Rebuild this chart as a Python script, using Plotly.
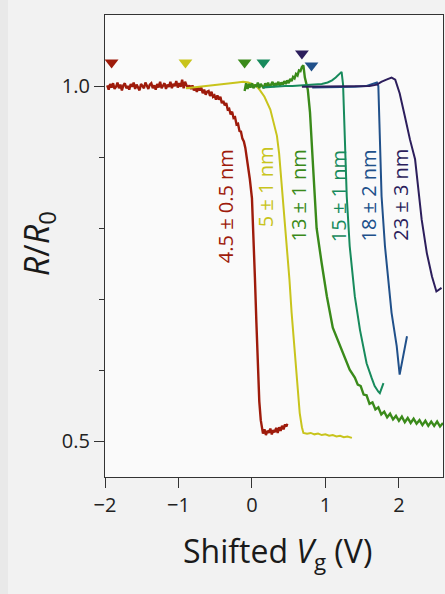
import plotly.graph_objects as go

# ---------------- data ----------------
red_x = [-1.97, -1.95, -1.93, -1.91, -1.89, -1.87, -1.85, -1.83, -1.81, -1.79,
         -1.77, -1.75, -1.73, -1.71, -1.69, -1.67, -1.65, -1.63, -1.61, -1.59,
         -1.57, -1.55, -1.53, -1.51, -1.49, -1.47, -1.45, -1.43, -1.41, -1.39,
         -1.37, -1.35, -1.33, -1.31, -1.29, -1.27, -1.25, -1.23, -1.21, -1.19,
         -1.17, -1.15, -1.13, -1.11, -1.09, -1.07, -1.05, -1.03, -1.01, -0.99,
         -0.97, -0.95, -0.93, -0.91, -0.89, -0.87,
         -0.85, -0.83, -0.81, -0.79, -0.77, -0.75, -0.73, -0.71, -0.69, -0.67,
         -0.65, -0.63, -0.61, -0.59, -0.57, -0.55, -0.53, -0.51, -0.49, -0.47,
         -0.45, -0.43, -0.41, -0.39, -0.37, -0.35, -0.33, -0.31, -0.29, -0.27,
         -0.25, -0.23, -0.21, -0.19, -0.17, -0.15, -0.13, -0.11,
         -0.09, -0.06, -0.03, 0.00, 0.02, 0.04, 0.06, 0.08, 0.10, 0.12, 0.14,
         0.15, 0.17, 0.19, 0.21, 0.23, 0.25, 0.27, 0.29, 0.31, 0.33,
         0.35, 0.37, 0.39, 0.41, 0.43, 0.45, 0.47, 0.48]
red_y = [1.001, 0.995, 1.003, 0.998, 1.004, 0.996, 0.999, 1.005, 0.997, 1.002,
         0.994, 1.001, 1.004, 0.997, 1.000, 0.995, 1.003, 0.999, 1.005, 0.996,
         1.002, 0.998, 0.994, 1.003, 1.000, 0.997, 1.005, 0.999, 0.996, 1.002,
         1.004, 0.997, 1.001, 0.995, 1.003, 0.998, 1.006, 0.997, 1.000, 1.004,
         0.996, 1.002, 0.999, 1.006, 0.997, 1.003, 1.000, 1.007, 0.998, 1.004,
         0.999, 1.009, 0.997, 1.006, 1.001, 0.998,
         1.001, 0.996, 1.001, 0.994, 0.997, 0.992, 0.998, 0.994, 0.998, 0.990,
         0.995, 0.988, 0.992, 0.993, 0.986, 0.992, 0.985, 0.987, 0.981, 0.987,
         0.981, 0.985, 0.976, 0.979, 0.973, 0.976, 0.967, 0.968, 0.960, 0.964,
         0.955, 0.956, 0.946, 0.947, 0.937, 0.936, 0.926, 0.922,
         0.913, 0.894, 0.870, 0.842, 0.795, 0.731, 0.668, 0.606, 0.556, 0.530, 0.518,
         0.511, 0.517, 0.509, 0.515, 0.512, 0.518, 0.510, 0.516, 0.513, 0.519,
         0.512, 0.520, 0.515, 0.522, 0.517, 0.524, 0.521, 0.525]

yel_x = [-0.90, -0.80, -0.70, -0.60, -0.50, -0.40, -0.30, -0.20, -0.12, -0.05,
         0.02, 0.07, 0.11, 0.17, 0.25, 0.30, 0.34, 0.37, 0.40, 0.44,
         0.47, 0.51, 0.54, 0.58, 0.61, 0.65, 0.68, 0.70, 0.75, 0.80,
         0.85, 0.90, 0.95, 1.00, 1.05, 1.10, 1.15, 1.20, 1.25, 1.30, 1.36]
yel_y = [0.997, 0.998, 0.999, 1.000, 1.001, 1.002, 1.003, 1.005, 1.006, 1.005,
         1.002, 0.999, 0.994, 0.985, 0.967, 0.948, 0.930, 0.905, 0.869, 0.822,
         0.775, 0.728, 0.681, 0.628, 0.587, 0.540, 0.520, 0.512, 0.511, 0.512,
         0.510, 0.511, 0.509, 0.510, 0.508, 0.509, 0.507, 0.508, 0.506, 0.507, 0.505]

grn_x = [-0.10, -0.08, -0.06, -0.04, -0.02, 0.00, 0.02, 0.04, 0.06, 0.08,
         0.10, 0.12, 0.14, 0.16, 0.18, 0.20, 0.22, 0.24, 0.26, 0.28,
         0.30, 0.32, 0.34, 0.36, 0.38, 0.40, 0.42, 0.44, 0.46, 0.48,
         0.50, 0.52, 0.54, 0.56, 0.58, 0.60, 0.62, 0.64, 0.66, 0.68,
         0.70, 0.72, 0.76, 0.79, 0.83, 0.88, 0.95, 1.02, 1.10, 1.20,
         1.27, 1.33,
         1.40, 1.44, 1.48, 1.52, 1.56, 1.60, 1.64, 1.68, 1.72, 1.76,
         1.80, 1.84, 1.88, 1.92, 1.96, 2.00, 2.04, 2.08, 2.12, 2.16,
         2.20, 2.24, 2.28, 2.32, 2.36, 2.40, 2.44, 2.48, 2.52, 2.56, 2.60]
grn_y = [0.993, 1.004, 0.996, 1.003, 0.998, 1.004, 0.997, 1.002, 0.999, 1.005,
         0.997, 1.003, 1.000, 0.997, 1.004, 0.999, 1.005, 0.998, 1.002, 1.006,
         0.999, 1.004, 1.001, 1.006, 1.000, 1.005, 1.002, 1.007, 1.003, 1.008,
         1.004, 1.010, 1.007, 1.013, 1.011, 1.017, 1.015, 1.022, 1.021, 1.027,
         1.029, 1.012, 0.995, 0.963, 0.890, 0.800, 0.750, 0.704, 0.660, 0.634,
         0.615, 0.601,
         0.590, 0.580, 0.578, 0.566, 0.565, 0.553, 0.555, 0.545, 0.548, 0.538,
         0.542, 0.534, 0.539, 0.531, 0.536, 0.529, 0.535, 0.527, 0.533, 0.526,
         0.532, 0.525, 0.530, 0.523, 0.529, 0.522, 0.528, 0.522, 0.528, 0.521, 0.526]

teal_x = [0.15, 0.25, 0.35, 0.45, 0.55, 0.65, 0.75, 0.85, 0.95, 1.03,
          1.09, 1.14, 1.18, 1.22, 1.24, 1.265, 1.29, 1.33, 1.40, 1.47,
          1.56, 1.63, 1.67, 1.72, 1.74, 1.79]
teal_y = [0.998, 0.999, 0.999, 1.000, 1.000, 1.001, 1.001, 1.002, 1.003, 1.005,
          1.008, 1.012, 1.016, 1.020, 1.002, 0.915, 0.845, 0.775, 0.704, 0.657,
          0.610, 0.589, 0.578, 0.570, 0.568, 0.582]

blue_x = [0.82, 0.95, 1.10, 1.25, 1.40, 1.55, 1.62, 1.67, 1.70, 1.72,
          1.74, 1.764, 1.81, 1.854, 1.90, 1.97, 2.01, 2.11]
blue_y = [0.998, 0.998, 0.998, 0.999, 0.999, 1.000, 1.002, 1.004, 1.005, 1.000,
          0.915, 0.845, 0.775, 0.728, 0.681, 0.634, 0.594, 0.648]

navy_x = [0.68, 0.85, 1.00, 1.15, 1.30, 1.45, 1.60, 1.70, 1.76, 1.83,
          1.90, 1.95, 2.01, 2.08, 2.15, 2.22, 2.26, 2.31, 2.38, 2.45,
          2.51, 2.58]
navy_y = [0.999, 0.999, 0.999, 0.999, 0.999, 0.999, 1.000, 1.002, 1.006, 1.009,
          1.012, 1.009, 0.990, 0.958, 0.925, 0.897, 0.855, 0.812, 0.765, 0.732,
          0.711, 0.716]

# onset markers (triangles), same order as the series
mark_x = [-1.91, -0.905, -0.10, 0.156, 0.81, 0.68]
mark_y = [1.033, 1.033, 1.033, 1.033, 1.029, 1.046]

labels = ["4.5 ± 0.5 nm", "5 ± 1 nm", "13 ± 1 nm", "15 ± 1 nm", "18 ± 2 nm", "23 ± 3 nm"]
colors = ["#9e1b0b", "#c8c41c", "#3a8a1a", "#178a5c", "#20508a", "#2c1e5c"]
x_ticks = [-2, -1, 0, 1, 2]
y_ticks = [0.5, 1.0]
y_minor = [0.6, 0.7, 0.8, 0.9]

series = [(red_x, red_y, 2.4), (yel_x, yel_y, 2.0), (grn_x, grn_y, 2.4),
          (teal_x, teal_y, 2.0), (blue_x, blue_y, 2.0), (navy_x, navy_y, 2.0)]

# label positions (layout only)
label_pos = [(-0.367, 0.831), (0.177, 0.859), (0.639, 0.846),
             (1.170, 0.845), (1.592, 0.846), (2.027, 0.847)]

FONT = "Open Sans, Noto Sans, sans-serif"

fig = go.Figure()
for (xs, ys, w), c in zip(series, colors):
    fig.add_trace(go.Scatter(x=xs, y=ys, mode="lines",
                             line=dict(color=c, width=w), showlegend=False,
                             hoverinfo="skip"))
fig.add_trace(go.Scatter(x=mark_x, y=mark_y, mode="markers",
                         marker=dict(symbol="triangle-down", size=12, color=colors,
                                     line=dict(width=0)),
                         showlegend=False, hoverinfo="skip"))

for (lx, ly), txt, c in zip(label_pos, labels, colors):
    fig.add_annotation(x=lx, y=ly, xref="x", yref="y", text=txt, textangle=-90,
                       showarrow=False, font=dict(family=FONT, size=20, color=c))

fig.add_annotation(x=0.509, y=-0.164, xref="paper", yref="paper",
                   text="Shifted <i>V</i><sub>g</sub> (V)", showarrow=False,
                   xanchor="center", yanchor="middle",
                   font=dict(family=FONT, size=32, color="#1a1a1a"))
fig.add_annotation(x=-0.198, y=0.504, xref="paper", yref="paper",
                   text="<i>R</i>/<i>R</i><sub>0</sub>", showarrow=False, textangle=-90,
                   xanchor="center", yanchor="middle",
                   font=dict(family=FONT, size=34, color="#1a1a1a"))

# slightly darker strip at the very left edge of the panel
fig.add_shape(type="rect", xref="paper", yref="paper", x0=-0.33, x1=-0.287,
              y0=-0.3, y1=1.1, fillcolor="#e9e9e9", line=dict(width=0), layer="below")

axis_common = dict(showgrid=False, zeroline=False, showline=True, linecolor="#333333",
                   linewidth=1.3, mirror=True, ticks="outside", tickcolor="#333333",
                   tickwidth=1.3, ticklen=10,
                   tickfont=dict(family=FONT, size=20, color="#222222"))

fig.update_xaxes(range=[-2, 2.6], tickvals=x_ticks, **axis_common)
fig.update_yaxes(range=[0.45, 1.10], tickvals=y_ticks, tickformat=".1f",
                 minor=dict(tickvals=y_minor, ticks="outside", ticklen=5,
                            tickcolor="#333333", tickwidth=1.3),
                 **axis_common)

fig.update_layout(width=445, height=594, margin=dict(l=105, r=2, t=15, b=117),
                  paper_bgcolor="#f2f2f2", plot_bgcolor="#fafafa",
                  font=dict(family=FONT))

fig.write_html("out.html")
